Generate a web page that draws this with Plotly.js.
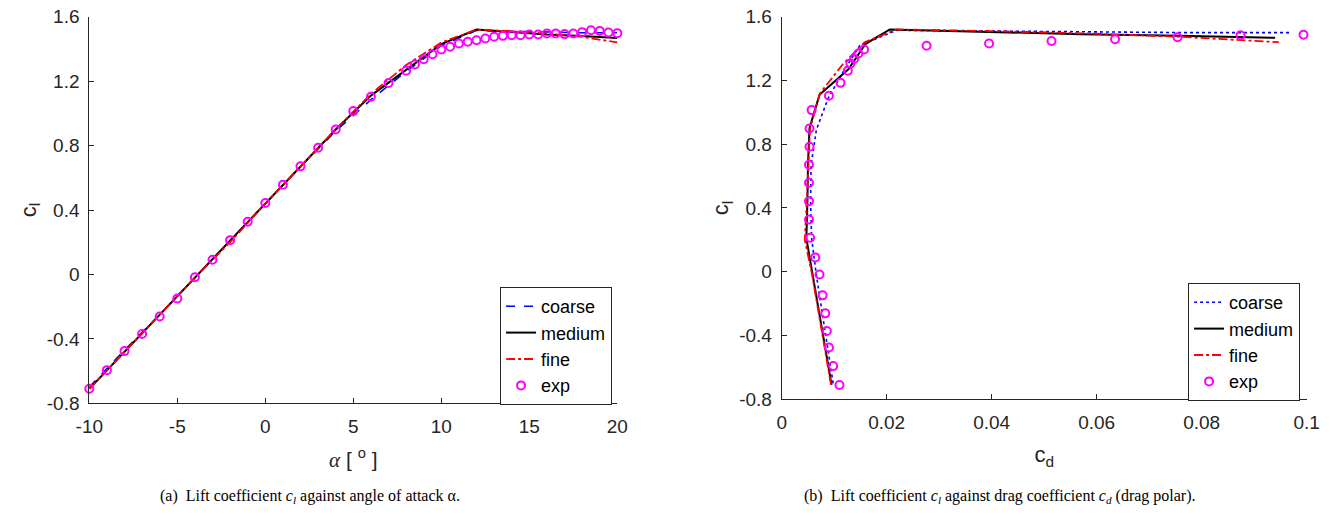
<!DOCTYPE html>
<html>
<head>
<meta charset="utf-8">
<script src="https://cdn.plot.ly/plotly-3.0.1.min.js"></script>
<style>html,body{margin:0;padding:0;background:#fff;}#chart{width:1331px;height:517px;}</style>
</head>
<body>
<div id="chart"></div>
<script>
// ---- data ----
const alphaCFD = [-10, -8, -6, -4, -2, 0, 2, 4, 6, 8, 10, 12, 14, 16, 18, 20];
const clCoarse = [-0.70, -0.47, -0.25, -0.02, 0.21, 0.44, 0.67, 0.89, 1.085, 1.26, 1.42, 1.515, 1.51, 1.505, 1.50, 1.50];
const cdCoarse = [0.0098, 0.0087, 0.0076, 0.0066, 0.0057, 0.0055, 0.0056, 0.0066, 0.0088, 0.0118, 0.0149, 0.0219, 0.040, 0.059, 0.078, 0.0968];
const clMedium = [-0.71, -0.48, -0.25, -0.02, 0.21, 0.44, 0.67, 0.90, 1.11, 1.27, 1.43, 1.52, 1.505, 1.49, 1.48, 1.468];
const cdMedium = [0.0095, 0.0083, 0.0071, 0.0059, 0.0047, 0.0049, 0.0050, 0.0053, 0.0072, 0.0127, 0.0160, 0.0206, 0.039, 0.057, 0.0755, 0.094];
const clFine   = [-0.71, -0.48, -0.25, -0.02, 0.20, 0.44, 0.67, 0.90, 1.12, 1.30, 1.44, 1.52, 1.51, 1.495, 1.475, 1.44];
const cdFine   = [0.0094, 0.0082, 0.0070, 0.0058, 0.0044, 0.0048, 0.0051, 0.0054, 0.0073, 0.0116, 0.0158, 0.0219, 0.040, 0.058, 0.0752, 0.0947];

const alphaExp = [-10, -9, -8, -7, -6, -5, -4, -3, -2, -1, 0, 1, 2, 3, 4, 5, 6, 7,
                  8, 8.5, 9, 9.5, 10, 10.5, 11, 11.5, 12, 12.5, 13, 13.5, 14, 14.5,
                  15, 15.5, 16, 16.5, 17, 17.5, 18, 18.5, 19, 19.5, 20];
const clExp = [-0.710, -0.594, -0.476, -0.370, -0.261, -0.149, -0.017, 0.091, 0.213, 0.327,
               0.443, 0.557, 0.672, 0.786, 0.900, 1.014, 1.103, 1.188,
               1.264, 1.303, 1.336, 1.367, 1.397, 1.413, 1.434, 1.444, 1.454, 1.465,
               1.475, 1.481, 1.485, 1.485, 1.490, 1.490, 1.496, 1.496, 1.492, 1.496,
               1.504, 1.516, 1.512, 1.502, 1.498];

const cdExpPolar = [0.0110, 0.0098, 0.0090, 0.0086, 0.0083, 0.0078, 0.0072, 0.0064, 0.0054, 0.0052,
                    0.0052, 0.0052, 0.0052, 0.0053, 0.0053, 0.0057, 0.0090, 0.0112,
                    0.0126, 0.0131, 0.0138, 0.0146, 0.0157, 0.0276, 0.0395, 0.0514,
                    0.0635, 0.0754, 0.0874, 0.0994];
const clExpPolar = [-0.711, -0.592, -0.475, -0.372, -0.261, -0.148, -0.017, 0.090, 0.213, 0.328,
                    0.443, 0.558, 0.671, 0.784, 0.899, 1.014, 1.104, 1.185,
                    1.261, 1.307, 1.336, 1.369, 1.394, 1.418, 1.432, 1.447,
                    1.459, 1.471, 1.483, 1.487];

const seriesNames = ['coarse', 'medium', 'fine', 'exp'];
const yTickVals = [-0.8, -0.4, 0, 0.4, 0.8, 1.2, 1.6];
const yTickText = ['-0.8', '-0.4', '0', '0.4', '0.8', '1.2', '1.6'];
const xTickValsA = [-10, -5, 0, 5, 10, 15, 20];
const xTickTextA = ['-10', '-5', '0', '5', '10', '15', '20'];
const xTickValsB = [0, 0.02, 0.04, 0.06, 0.08, 0.1];
const xTickTextB = ['0', '0.02', '0.04', '0.06', '0.08', '0.1'];
const captionA = '(a)  Lift coefficient <i>c<sub>l</sub></i> against angle of attack α.';
const captionB = '(b)  Lift coefficient <i>c<sub>l</sub></i> against drag coefficient <i>c<sub>d</sub></i> (drag polar).';

// ---- styles ----
const AX = '#262626';
const SANS = 'Liberation Sans, Arial, sans-serif';
const expMarker = {symbol: 'circle-open', size: 8, color: '#FF00FF', line: {width: 2, color: '#FF00FF'}};

const traces = [
  {x: alphaCFD, y: clCoarse, name: seriesNames[0], mode: 'lines', xaxis: 'x', yaxis: 'y', legend: 'legend',
   line: {color: '#0000FF', width: 1.6, dash: 'dash'}},
  {x: alphaCFD, y: clMedium, name: seriesNames[1], mode: 'lines', xaxis: 'x', yaxis: 'y', legend: 'legend',
   line: {color: '#000000', width: 2}},
  {x: alphaCFD, y: clFine, name: seriesNames[2], mode: 'lines', xaxis: 'x', yaxis: 'y', legend: 'legend',
   line: {color: '#FF0000', width: 1.8, dash: 'dashdot'}},
  {x: alphaExp, y: clExp, name: seriesNames[3], mode: 'markers', xaxis: 'x', yaxis: 'y', legend: 'legend',
   marker: expMarker, cliponaxis: false},

  {x: cdCoarse, y: clCoarse, name: seriesNames[0], mode: 'lines', xaxis: 'x2', yaxis: 'y2', legend: 'legend2',
   line: {color: '#0000FF', width: 1.6, dash: 'dot'}},
  {x: cdMedium, y: clMedium, name: seriesNames[1], mode: 'lines', xaxis: 'x2', yaxis: 'y2', legend: 'legend2',
   line: {color: '#000000', width: 2}},
  {x: cdFine, y: clFine, name: seriesNames[2], mode: 'lines', xaxis: 'x2', yaxis: 'y2', legend: 'legend2',
   line: {color: '#FF0000', width: 1.8, dash: 'dashdot'}},
  {x: cdExpPolar, y: clExpPolar, name: seriesNames[3], mode: 'markers', xaxis: 'x2', yaxis: 'y2', legend: 'legend2',
   marker: expMarker, cliponaxis: false}
];

function axisBase(extra) {
  return Object.assign({
    showline: true, linecolor: AX, linewidth: 1, mirror: false,
    showgrid: false, zeroline: false,
    ticks: 'inside', ticklen: 5, tickwidth: 1, tickcolor: AX,
    tickfont: {family: SANS, size: 19, color: AX},
    tickmode: 'array', fixedrange: true
  }, extra);
}

const legendStyle = {
  xanchor: 'left', yanchor: 'top',
  bgcolor: '#FFFFFF', bordercolor: AX, borderwidth: 1,
  font: {family: SANS, size: 18, color: '#000000'},
  tracegroupgap: 0, itemwidth: 30
};

const layout = {
  width: 1331, height: 517,
  margin: {l: 0, r: 0, t: 0, b: 0},
  paper_bgcolor: '#FFFFFF', plot_bgcolor: '#FFFFFF',
  showlegend: true,
  xaxis: axisBase({domain: [0.0671, 0.4638], range: [-10, 20], anchor: 'y',
    tickvals: xTickValsA, ticktext: xTickTextA, ticklabelstandoff: 6,
    title: {text: '<span style="font-family:Liberation Serif"><i>α</i></span> [ <sup>o</sup> ]',
            font: {family: SANS, size: 21, color: AX}, standoff: 16}}),
  yaxis: axisBase({domain: [0.2199, 0.9677], range: [-0.8, 1.6], anchor: 'x',
    tickvals: yTickVals, ticktext: yTickText, ticklabelstandoff: 5,
    title: {text: 'c<sub>l</sub>', font: {family: SANS, size: 22, color: AX}, standoff: 4}}),
  xaxis2: axisBase({domain: [0.5873, 0.9817], range: [0, 0.1], anchor: 'y2',
    tickvals: xTickValsB, ticktext: xTickTextB, ticklabelstandoff: 6,
    title: {text: 'c<sub>d</sub>', font: {family: SANS, size: 22, color: AX}, standoff: 14}}),
  yaxis2: axisBase({domain: [0.2277, 0.9677], range: [-0.8, 1.6], anchor: 'x2',
    tickvals: yTickVals, ticktext: yTickText, ticklabelstandoff: 5,
    title: {text: 'c<sub>l</sub>', font: {family: SANS, size: 22, color: AX}, standoff: 4}}),
  legend: Object.assign({x: 0.3757, y: 0.4449}, legendStyle),
  legend2: Object.assign({x: 0.8926, y: 0.4526}, legendStyle),
  annotations: [
    {text: captionA, xref: 'paper', yref: 'paper', x: 0.2329, y: 0.0387, xanchor: 'center', yanchor: 'middle',
     showarrow: false, font: {family: 'Liberation Serif, Times New Roman, serif', size: 16, color: '#000000'}},
    {text: captionB, xref: 'paper', yref: 'paper', x: 0.7513, y: 0.0387, xanchor: 'center', yanchor: 'middle',
     showarrow: false, font: {family: 'Liberation Serif, Times New Roman, serif', size: 16, color: '#000000'}}
  ]
};

Plotly.newPlot('chart', traces, layout, {displayModeBar: false, staticPlot: true});
</script>
</body>
</html>
